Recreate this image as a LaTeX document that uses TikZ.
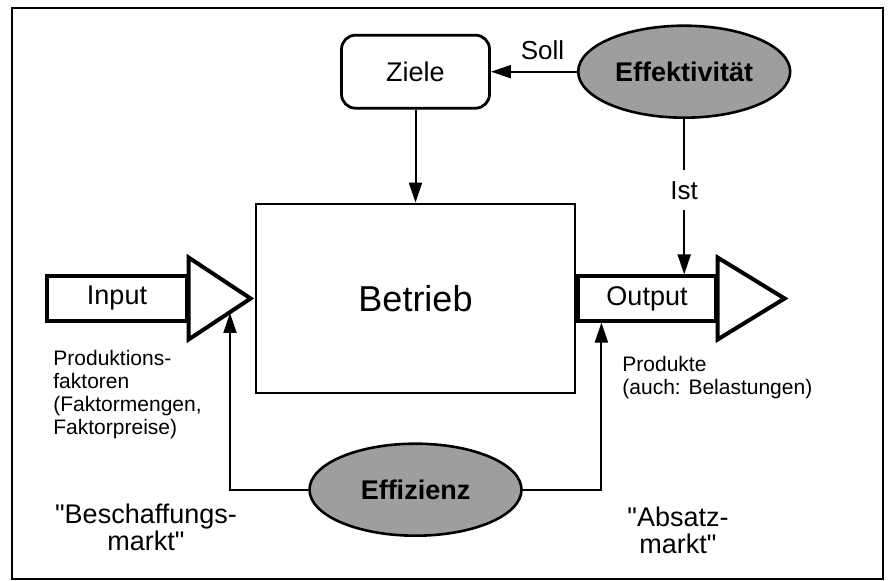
\documentclass[tikz,border=0pt]{standalone}
\usepackage{fontspec}
\setmainfont{Liberation Sans}
\usetikzlibrary{shapes.geometric,arrows.meta,positioning}

\begin{document}
\begin{tikzpicture}[
    x=0.5pt, y=-0.5pt,
    font=\fontsize{13.5}{15}\selectfont,
    box/.style={draw, line width=1.4pt, fill=white, inner sep=0pt},
    shaft/.style={draw, line width=1.6pt, minimum width=70pt, minimum height=22.5pt, inner sep=0pt},
    head/.style={draw, line width=2pt, line join=miter},
    oval/.style={ellipse, draw, line width=1.3pt, fill=black!38, minimum width=106pt, minimum height=46pt, inner sep=0pt, font=\bfseries\fontsize{13.5}{15}\selectfont},
    flow/.style={-{Triangle[length=10pt, width=6.5pt]}, line width=1pt},
    note/.style={font=\fontsize{10.5}{11.5}\selectfont, align=left, inner sep=0pt},
    market/.style={font=\fontsize{13.5}{13.5}\selectfont, align=center, inner sep=0pt}
]
\useasboundingbox (0,0) rectangle (888,581);
\draw[line width=0.8pt] (12,8) rectangle (883,579);

\node[box, minimum width=159.5pt, minimum height=94.5pt, font=\fontsize{18}{20}\selectfont] (betrieb) at (415.5,298.5) {Betrieb};
\node[box, rounded corners=7pt, minimum width=74pt, minimum height=36.5pt, above=46.5pt of betrieb] (ziele) {Ziele};
\node[oval, right=43pt of ziele] (effekt) {Effektivität};
\node[oval, below=24pt of betrieb] (effiz) {Effizienz};
\node[shaft, left=33pt of betrieb] (input) {Input};
\node[shaft, minimum width=69pt, right=0pt of betrieb] (output) {Output};

\foreach \n/\len in {input/62, output/67}
  \draw[head] (\n.east) ++(0,-41) -- ++(\len,41) -- ++(-\len,41) -- cycle;

\coordinate (intip) at (230,313);
\draw[flow] (ziele.south) -- (betrieb.north);
\draw[flow] (effekt.west) -- node[above=2pt, pos=0.4, font=\fontsize{13}{15}\selectfont] {Soll} (ziele.east);
\draw[flow] (effekt.south) -- node[fill=white, pos=0.46, minimum height=20pt, font=\fontsize{13}{15}\selectfont] {Ist} (effekt.south |- output.north);
\draw[flow] (effiz.west) -| (intip);
\draw[flow] (effiz.east) -| ([xshift=12.5pt]output.south west);

\node[note, anchor=west] (faktoren) at (53,395) {Produktions-\\faktoren\\(Faktormengen,\\Faktorpreise)};
\node[note, anchor=west] (produkte) at (622,378) {Produkte\\(auch: Belastungen)};
\node[market] (beschaffung) at (146,527) {\textquotedbl Beschaffungs-\\markt\textquotedbl};
\node[market] (absatz) at (678,530) {\textquotedbl Absatz-\\markt\textquotedbl};
\end{tikzpicture}
\end{document}
